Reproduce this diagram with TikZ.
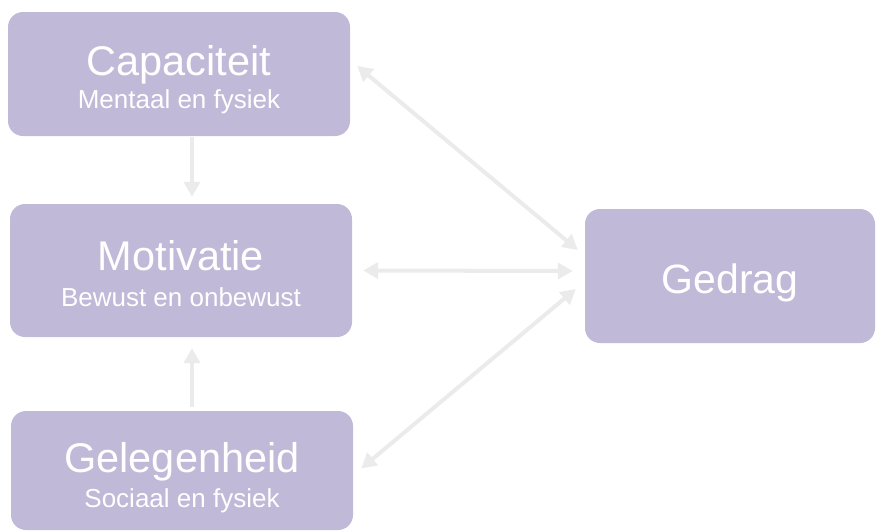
\documentclass[tikz,border=0pt]{standalone}
\usepackage{fontspec}
\setmainfont{Liberation Sans}
\usetikzlibrary{arrows.meta}
\definecolor{vakpaars}{RGB}{192,185,215}
\definecolor{pijlgrijs}{RGB}{235,235,235}
\newcommand{\kop}{\fontsize{41.5}{35}\selectfont}
\tikzset{
  vak/.style={rectangle,rounded corners=15pt,fill=vakpaars,text=white,
    align=center,inner sep=0pt,text depth=6pt},
  regels/.style={font=\fontsize{26}{#1}\selectfont},
  pijl/.style={draw=pijlgrijs,line width=4pt,
    -{Triangle[width=16pt,length=15pt]}},
  tweepijl/.style={pijl,{Triangle[width=16pt,length=15pt]}-{Triangle[width=16pt,length=15pt]}}
}

\begin{document}
\begin{tikzpicture}[x=1pt,y=-1pt]
  \useasboundingbox (0,0) rectangle (876,531);

  \node[vak,regels=33pt,text height=74.6pt,minimum width=342pt,minimum height=124pt]
    (cap) at (179,74) {{\kop Capaciteit}\\Mentaal en fysiek};
  \node[vak,regels=36pt,text height=78pt,minimum width=342pt,minimum height=133pt]
    (mot) at (181,270.5) {{\kop Motivatie}\\Bewust en onbewust};
  \node[vak,regels=35pt,text height=79pt,minimum width=342pt,minimum height=119pt]
    (gel) at (182,470.5) {{\kop Gelegenheid}\\Sociaal en fysiek};
  \node[vak,text height=40pt,text depth=5.4pt,minimum width=290pt,minimum height=134pt]
    (ged) at (730,276) {\fontsize{41}{48}\selectfont Gedrag};

  % verticale pijlen
  \draw[pijl] ([shift={(13,1)}]cap.south) -- ([shift={(11,-7)}]mot.north);
  \draw[pijl] ([shift={(10,-4)}]gel.north) -- ([shift={(11,11)}]mot.south);

  % pijlen naar gedrag
  \draw[tweepijl] ([shift={(7,-8)}]cap.east) -- ([shift={(-7,-26)}]ged.west);
  \draw[tweepijl] ([shift={(11,0)}]mot.east) -- ([shift={(-12,-5)}]ged.west);
  \draw[tweepijl] ([shift={(8,-2)}]gel.east) -- ([shift={(-9,13)}]ged.west);
\end{tikzpicture}
\end{document}
